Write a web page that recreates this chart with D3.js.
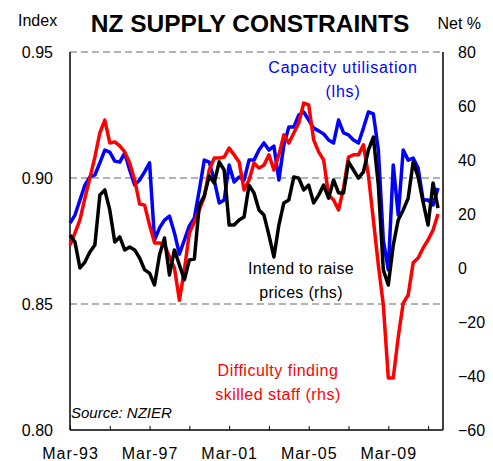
<!DOCTYPE html>
<html>
<head>
<meta charset="utf-8">
<title>NZ supply constraints</title>
<script src="https://cdn.jsdelivr.net/npm/d3@7"></script>
<style>
  body { margin: 0; background: #fff; }
  text { font-family: Arial, "Liberation Sans", sans-serif; }
</style>
</head>
<body>
<div id="viz"></div>
<script>
// quarterly, Mar-93 .. Sep-11
var capacity = [0.8821,0.8853,0.8913,0.8972,0.9004,0.9012,0.9060,0.9111,0.9103,0.9067,
  0.9063,0.9099,0.9032,0.8972,0.8992,0.9024,0.9060,0.8754,0.8802,0.8833,
  0.8849,0.8782,0.8698,0.8754,0.8810,0.8841,0.8952,0.9071,0.9063,0.8992,
  0.8901,0.8913,0.9052,0.8984,0.9004,0.8992,0.9071,0.9071,0.9111,0.9139,
  0.9111,0.9127,0.8992,0.9131,0.9202,0.9202,0.9250,0.9262,0.9230,0.9198,
  0.9187,0.9175,0.9151,0.9139,0.9230,0.9179,0.9171,0.9151,0.9139,0.9198,
  0.9262,0.9254,0.9111,0.8754,0.8635,0.9052,0.8853,0.9111,0.9071,0.9079,
  0.9040,0.8913,0.8913,0.8893,0.8960];
var skilledStaff = [8.5,13.0,17.8,25.9,33.3,41.1,50.0,54.8,46.3,46.7,
  45.2,43.0,38.9,32.6,23.7,23.3,15.9,9.3,9.3,8.5,
  4.1,0,-11.9,-0.7,13.0,17.0,21.5,26.3,36.3,40.7,
  40.7,41.1,44.4,41.9,39.3,28.9,32.6,38.9,37.0,38.1,
  41.9,36.3,41.9,49.3,46.3,50.0,53.7,61.1,60.4,47.4,
  43.0,40.0,27.0,25.2,21.5,29.6,41.1,41.9,41.9,45.6,
  34.4,17.8,1.1,-13.7,-40.7,-40.7,-25.6,-13.0,-10.0,1.9,
  3.7,7.4,10.4,14.1,20.0];
var raisePrices = [12.2,9.6,0,2.2,5.9,8.5,27.0,28.9,21.5,9.6,
  11.5,6.7,7.8,6.7,3.7,-0.7,-1.9,-6.3,4.8,11.1,
  -2.6,6.7,1.1,-4.4,3.0,3.3,23.3,26.7,34.1,31.5,
  39.3,36.3,15.9,15.9,17.8,18.9,30.7,27.8,21.5,19.6,
  12.2,4.1,15.9,24.1,25.2,33.7,33.3,28.9,30.7,24.1,
  27.0,30.7,25.9,32.6,27.8,27.8,39.3,36.3,33.3,35.6,
  43.7,48.5,30.7,-0.7,-6.3,8.5,17.8,21.5,25.9,39.3,
  33.7,24.4,15.9,31.5,22.2];
var xTickLabels = ['Mar-93','Mar-97','Mar-01','Mar-05','Mar-09'];
var leftTicks = [0.80,0.85,0.90,0.95];
var rightTicks = [-60,-40,-20,0,20,40,60,80];

var width = 493, height = 461;
var m = {left: 70, right: 50, top: 52, bottom: 31};

var svg = d3.select('#viz').append('svg')
  .attr('width', width).attr('height', height);

var x = d3.scaleLinear().domain([0, 75]).range([m.left, width - m.right]);
var yL = d3.scaleLinear().domain([0.80, 0.95]).range([height - m.bottom, m.top]);
var yR = d3.scaleLinear().domain([-60, 80]).range([height - m.bottom, m.top]);

// dashed gridlines
svg.append('g').selectAll('line')
  .data([0.85, 0.90, 0.95])
  .join('line')
  .attr('x1', m.left).attr('x2', width - m.right)
  .attr('y1', d => yL(d)).attr('y2', d => yL(d))
  .attr('stroke', '#666').attr('stroke-width', 1)
  .attr('stroke-dasharray', '7,4');

// axes
var left = svg.append('g')
  .attr('transform', `translate(${m.left},0)`)
  .call(d3.axisLeft(yL).tickValues(leftTicks).tickFormat(d3.format('.2f')).tickSize(0).tickPadding(17));
var right = svg.append('g')
  .attr('transform', `translate(${width - m.right},0)`)
  .call(d3.axisRight(yR).tickValues(rightTicks).tickSize(0).tickPadding(15));
var bottom = svg.append('g')
  .attr('transform', `translate(0,${height - m.bottom})`)
  .call(d3.axisBottom(x).tickValues(d3.range(0, 73, 8)).tickSize(-4).tickPadding(18)
    .tickFormat(d => d % 16 === 0 ? xTickLabels[d / 16] : ''));

[left, right, bottom].forEach(g => {
  g.select('.domain').attr('stroke', '#000').attr('stroke-width', 1.5);
  g.selectAll('text').attr('font-size', 16).attr('fill', '#000')
    .style('font-family', 'Arial, "Liberation Sans", sans-serif');
  g.selectAll('line').attr('stroke', '#000');
});
bottom.selectAll('text').style('letter-spacing', '1px');
left.select('.domain').attr('d', `M0,${yL(0.80)}V${yL(0.95)}`);
right.select('.domain').attr('d', `M0,${yR(-60)}V${yR(80)}`);
bottom.select('.domain').attr('d', `M${m.left},0H${width - m.right}`);

// series
var lines = [
  {vals: capacity, y: yL, color: '#0000ff'},
  {vals: skilledStaff, y: yR, color: '#ff0000'},
  {vals: raisePrices, y: yR, color: '#000000'}
];
lines.forEach(s => {
  svg.append('path')
    .datum(s.vals)
    .attr('fill', 'none')
    .attr('stroke', s.color)
    .attr('stroke-width', 3.5)
    .attr('stroke-linejoin', 'round')
    .attr('d', d3.line().x((d, i) => x(i)).y(d => s.y(d)));
});

// titles and labels
svg.append('text').attr('x', 250).attr('y', 32).attr('text-anchor', 'middle')
  .attr('font-size', 24.5).attr('font-weight', 'bold').text('NZ SUPPLY CONSTRAINTS');
svg.append('text').attr('x', 18).attr('y', 26).attr('font-size', 16).text('Index');
svg.append('text').attr('x', 481).attr('y', 29).attr('text-anchor', 'end')
  .attr('font-size', 16).text('Net %');

var notes = [
  {x: 343, y: 73, color: '#0000ff', lines: ['Capacity utilisation', '(lhs)'], sp: 0.8},
  {x: 301, y: 274, color: '#000000', lines: ['Intend to raise', 'prices (rhs)'], sp: 0.3},
  {x: 278, y: 376, color: '#ff0000', lines: ['Difficulty finding', 'skilled staff (rhs)'], sp: 0.5}
];
notes.forEach(n => {
  svg.append('g').selectAll('text')
    .data(n.lines)
    .join('text')
    .attr('x', n.x).attr('y', (d, i) => n.y + i * 24)
    .attr('text-anchor', 'middle')
    .attr('font-size', 16)
    .attr('fill', n.color)
    .style('letter-spacing', n.sp + 'px')
    .text(d => d);
});
svg.append('text').attr('x', 71).attr('y', 418)
  .attr('font-size', 15).attr('font-style', 'italic').text('Source: NZIER');
</script>
</body>
</html>
